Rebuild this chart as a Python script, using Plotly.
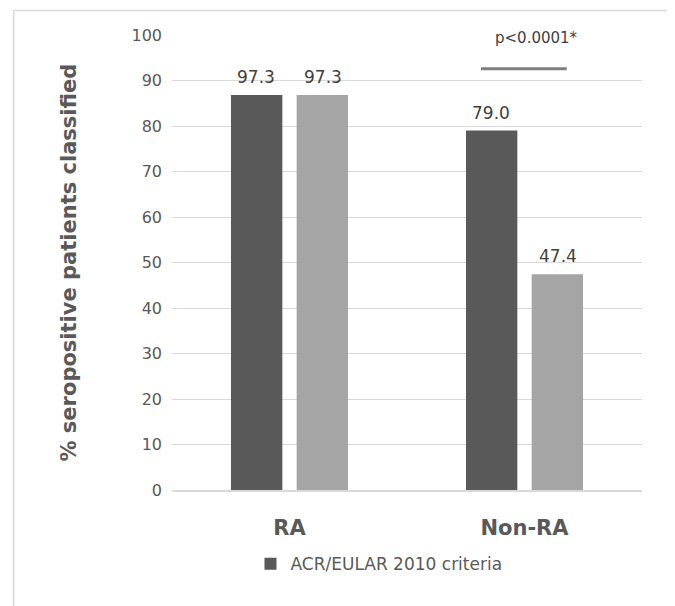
import plotly.graph_objects as go

categories = ["RA", "Non-RA"]
criteria_2010 = [86.8, 79.0]
criteria_2010_labels = ["97.3", "79.0"]
comparison = [86.8, 47.4]
comparison_labels = ["97.3", "47.4"]
y_ticks = [0, 10, 20, 30, 40, 50, 60, 70, 80, 90, 100]
p_text = "p<0.0001*"
p_level = 92.6

FONT = "'DejaVu Sans', sans-serif"
DARK = "#595959"
LIGHT = "#a5a5a5"
TXT = "#595959"

fig = go.Figure()
fig.add_trace(go.Bar(x=categories, y=criteria_2010, name="ACR/EULAR 2010 criteria",
                     marker=dict(color=DARK, line=dict(width=0)), showlegend=True))
fig.add_trace(go.Bar(x=categories, y=comparison, name="comparison",
                     marker=dict(color=LIGHT, line=dict(width=0)), showlegend=False))

annotations = []
off = 0.141
for i, cat in enumerate(categories):
    annotations.append(dict(x=i - off, y=criteria_2010[i], text=criteria_2010_labels[i],
                            xref="x", yref="y", showarrow=False, yanchor="bottom", yshift=6,
                            font=dict(family=FONT, size=17, color="#404040")))
    annotations.append(dict(x=i + off, y=comparison[i], text=comparison_labels[i],
                            xref="x", yref="y", showarrow=False, yanchor="bottom", yshift=6,
                            font=dict(family=FONT, size=17, color="#404040")))

annotations.append(dict(x=1.05, y=99.3, text=p_text, xref="x", yref="y", showarrow=False,
                        font=dict(family=FONT, size=15, color="#404040")))
annotations.append(dict(x=0, y=0.5, xref="paper", yref="paper", xshift=-104,
                        text="<b>% seropositive patients classified</b>",
                        textangle=-90, showarrow=False, xanchor="center", yanchor="middle",
                        font=dict(family=FONT, size=21, color=TXT)))

shapes = [
    dict(type="line", xref="x", yref="y", x0=0.815, x1=1.18, y0=p_level, y1=p_level,
         line=dict(color="#7f7f7f", width=3)),
    dict(type="rect", xref="paper", yref="paper", x0=-0.337, x1=1.0585, y0=-0.3, y1=1.054,
         line=dict(color="#d9d9d9", width=1.5), fillcolor="rgba(0,0,0,0)", layer="below"),
]

fig.update_layout(
    width=675, height=606,
    margin=dict(l=164, r=41, t=27, b=124),
    paper_bgcolor="white", plot_bgcolor="white",
    barmode="group", bargap=0.441, bargroupgap=0.218,
    font=dict(family=FONT, color=TXT),
    annotations=annotations, shapes=shapes,
    legend=dict(orientation="h", x=0.167, xanchor="left", y=-0.163, yanchor="middle",
                font=dict(family=FONT, size=17, color=TXT), itemwidth=30,
                bgcolor="rgba(0,0,0,0)"),
    showlegend=True,
)
fig.update_xaxes(showgrid=False, showline=True, linecolor="#d9d9d9", linewidth=1.5,
                 ticks="", tickfont=dict(family=FONT, size=21, color=TXT),
                 ticklabelstandoff=18, tickprefix="<b>", ticksuffix="</b>")
fig.update_yaxes(range=[0, 100], tickvals=y_ticks, showgrid=True, gridcolor="#d9d9d9", gridwidth=1,
                 zeroline=False, showline=False, ticks="",
                 tickfont=dict(family=FONT, size=16, color=TXT), ticklabelstandoff=9)

fig.write_html("out.html")
